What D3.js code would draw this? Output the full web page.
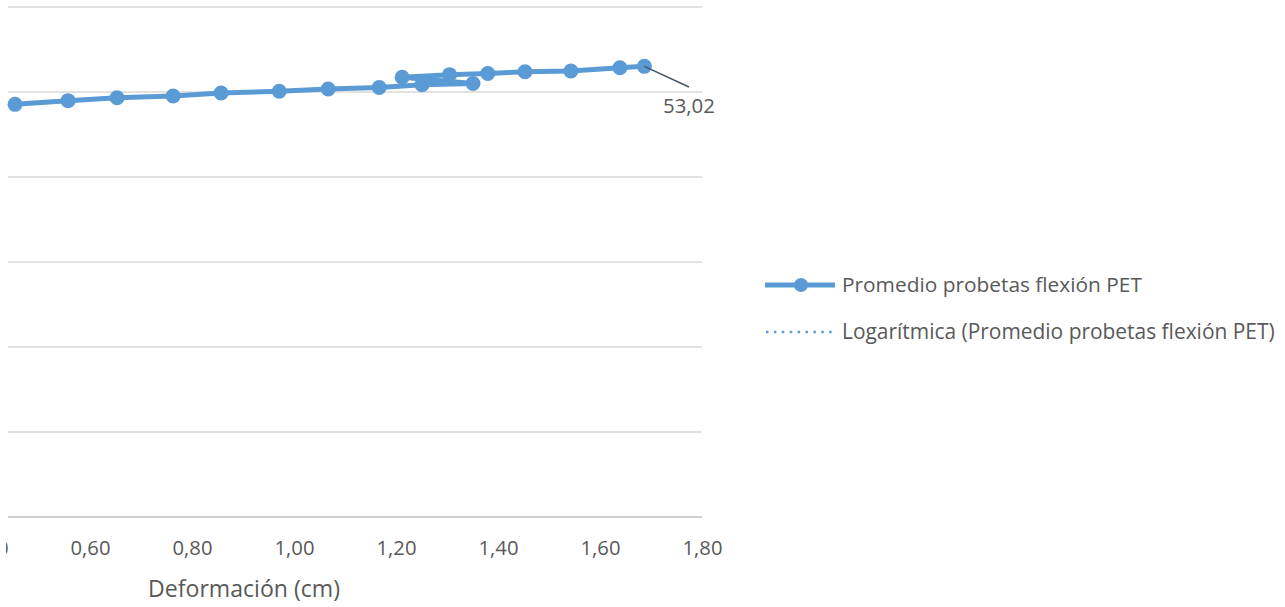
<!DOCTYPE html>
<html>
<head>
<meta charset="utf-8">
<script src="https://cdn.jsdelivr.net/npm/d3@7"></script>
<style>
  html, body { margin: 0; padding: 0; background: #fff; }
  svg { display: block; }
  text { font-family: "Open Sans", "Noto Sans", sans-serif; fill: #595959; }
</style>
</head>
<body>
<svg id="chart" width="1285" height="607"></svg>
<script>
// ---- data ----
const deformacion = [0.453, 0.557, 0.653, 0.763, 0.857, 0.971, 1.067, 1.167, 1.251, 1.351, 1.212, 1.305, 1.380, 1.453, 1.543, 1.639, 1.687];
const carga       = [48.55, 48.98, 49.33, 49.53, 49.88, 50.08, 50.35, 50.53, 50.86, 51.00, 51.73, 52.04, 52.18, 52.39, 52.47, 52.86, 53.02];
const xTicks      = [0.40, 0.60, 0.80, 1.00, 1.20, 1.40, 1.60, 1.80];
const xTickLabels = ["0,40", "0,60", "0,80", "1,00", "1,20", "1,40", "1,60", "1,80"];
const yTicks      = [0, 10, 20, 30, 40, 50, 60];
const seriesName  = "Promedio probetas flexión PET";
const trendName   = "Logarítmica (Promedio probetas flexión PET)";
const xTitle      = "Deformación (cm)";
const lastLabel   = "53,02";

// ---- layout ----
const svg = d3.select("#chart");
const color = "#5B9BD5";
const x = d3.scaleLinear().domain([0.4, 1.8]).range([-12, 702]);
const y = d3.scaleLinear().domain([0, 60]).range([517, 7]);
const gridLeft = 8, gridRight = 702;

svg.append("defs").append("clipPath").attr("id", "labelclip")
  .append("rect").attr("x", 6).attr("y", 0).attr("width", 1279).attr("height", 607);

function fitWidth(sel, target) {
  const w = sel.node().getComputedTextLength();
  const fs = parseFloat(sel.attr("font-size"));
  sel.attr("font-size", fs * target / w);
}

// gridlines
svg.append("g").selectAll("line").data(yTicks.filter(d => d > 0)).join("line")
  .attr("x1", gridLeft).attr("x2", gridRight)
  .attr("y1", d => y(d)).attr("y2", d => y(d))
  .attr("stroke", "#D9D9D9").attr("stroke-width", 1.3);

// x axis
const xAxis = d3.axisBottom(x).tickValues(xTicks).tickSize(0)
  .tickFormat((d, i) => xTickLabels[i]);
const gx = svg.append("g").attr("clip-path", "url(#labelclip)")
  .append("g").attr("transform", `translate(0,${y(0)})`).call(xAxis);
gx.select(".domain").remove();
svg.append("line").attr("x1", gridLeft).attr("x2", gridRight)
  .attr("y1", y(0)).attr("y2", y(0)).attr("stroke", "#BFBFBF").attr("stroke-width", 1.3);
gx.selectAll(".tick text")
  .attr("font-size", 20).attr("fill", "#595959")
  .attr("font-family", "Open Sans")
  .attr("dy", null).attr("y", 38);
{
  const t = gx.selectAll(".tick text").filter((d, i) => i === 1);
  const w = t.node().getComputedTextLength();
  gx.selectAll(".tick text").attr("font-size", 20 * 40 / w);
}

// axis title
const tt = svg.append("text").attr("x", 244).attr("y", 597)
  .attr("text-anchor", "middle").attr("font-size", 20).text(xTitle);
fitWidth(tt, 192);

const pts = deformacion.map((d, i) => [d, carga[i]]);

// logarithmic trendline (least-squares fit y = a ln x + b), drawn beneath the series
const lx = deformacion.map(Math.log);
const mx = d3.mean(lx), my = d3.mean(carga);
const a = d3.sum(lx.map((v, i) => (v - mx) * (carga[i] - my))) / d3.sum(lx.map(v => (v - mx) ** 2));
const b = my - a * mx;
const [xmin, xmax] = d3.extent(deformacion);
const trend = d3.range(0, 61).map(k => { const xv = xmin + (xmax - xmin) * k / 60; return [xv, a * Math.log(xv) + b]; });
svg.append("path").datum(trend)
  .attr("d", d3.line().x(d => x(d[0])).y(d => y(d[1])))
  .attr("fill", "none").attr("stroke", color).attr("stroke-width", 2)
  .attr("stroke-opacity", 0)
  .attr("stroke-dasharray", "2.5,5").attr("stroke-linecap", "butt");

// series line
svg.append("path").datum(pts)
  .attr("d", d3.line().x(d => x(d[0])).y(d => y(d[1])))
  .attr("fill", "none").attr("stroke", color).attr("stroke-width", 5)
  .attr("stroke-linejoin", "round").attr("stroke-linecap", "round");

// markers
svg.append("g").selectAll("circle").data(pts).join("circle")
  .attr("cx", d => x(d[0])).attr("cy", d => y(d[1])).attr("r", 7.5)
  .attr("fill", color);

// data label with leader line
const last = pts[pts.length - 1];
svg.append("line").attr("x1", x(last[0])).attr("y1", y(last[1]))
  .attr("x2", 689).attr("y2", 87).attr("stroke", "#44546A").attr("stroke-width", 1.5);
const dl = svg.append("text").attr("x", 663).attr("y", 113).attr("font-size", 20).text(lastLabel);
fitWidth(dl, 52);

// legend
const lg = svg.append("g");
lg.append("line").attr("x1", 765).attr("x2", 835).attr("y1", 285).attr("y2", 285)
  .attr("stroke", color).attr("stroke-width", 5);
lg.append("circle").attr("cx", 801).attr("cy", 285).attr("r", 7).attr("fill", color);
const l1 = lg.append("text").attr("x", 842).attr("y", 292).attr("font-size", 20).text(seriesName);
fitWidth(l1, 300);
lg.append("line").attr("x1", 766).attr("x2", 835).attr("y1", 332).attr("y2", 332)
  .attr("stroke", color).attr("stroke-width", 2.5).attr("stroke-dasharray", "2.5,5.4");
const l2 = lg.append("text").attr("x", 842).attr("y", 339).attr("font-size", 20).text(trendName);
fitWidth(l2, 433);
</script>
</body>
</html>
